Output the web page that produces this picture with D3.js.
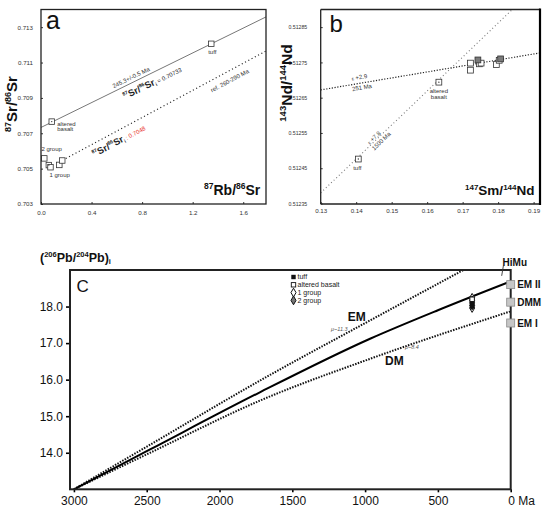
<!DOCTYPE html>
<html lang="en">
<head>
<meta charset="UTF-8">
<title>Rb-Sr, Sm-Nd and Pb isotope diagrams</title>
<script src="https://d3js.org/d3.v7.min.js"></script>
<style>
  body { margin: 0; background: #fff; }
  svg { display: block; font-family: "Liberation Sans", Arial, sans-serif; }
  .frame { fill: none; stroke: #222; }
  .axis path.domain { display: none; }
  .axis-small text { fill: #333; font-size: 6.2px; }
  .axis-small line { stroke: #333; }
  .axis-big text { fill: #111; font-size: 12px; }
  .axis-big line { stroke: #000; stroke-width: 1.6; }
  .note { fill: #333; font-size: 6px; }
</style>
</head>
<body>
<svg id="chart" width="550" height="510"></svg>
<script>
// ---------- panel a : 87Rb/86Sr vs 87Sr/86Sr ----------
const srTicksX = [0, 0.4, 0.8, 1.2, 1.6];
const srTicksY = [0.703, 0.705, 0.707, 0.709, 0.711, 0.713];
const srTuff = [[1.347, 0.71206]];
const srBasalt = [[0.085, 0.70766]];
const srGroups = [[0.026, 0.70558], [0.062, 0.70520], [0.075, 0.70508], [0.145, 0.70521], [0.168, 0.70546]];
const srIsochron = [[0, 0.70733], [1.78, 0.71358]];
const srReference = [[0.17, 0.70547], [1.78, 0.71165]];

// ---------- panel b : 147Sm/144Nd vs 143Nd/144Nd ----------
const ndTicksX = [0.13, 0.14, 0.15, 0.16, 0.17, 0.18, 0.19];
const ndTicksY = [0.51235, 0.51245, 0.51255, 0.51265, 0.51275, 0.51285];
const ndOpen = [[0.1406, 0.512476], [0.1633, 0.512694], [0.1722, 0.512748], [0.1722, 0.512728],
                [0.1747, 0.512746], [0.1752, 0.512748], [0.1795, 0.512744], [0.1803, 0.512756]];
const ndFilled = [[0.1743, 0.512757], [0.1807, 0.512760]];
const ndLine251 = [[0.13, 0.512672], [0.1918, 0.512777]];
const ndLine1500 = [[0.13, 0.51238], [0.184, 0.5129]];

// ---------- panel c : (206Pb/204Pb)i vs age ----------
const pbTicksX = [3000, 2500, 2000, 1500, 1000, 500, 0];
const pbTicksY = [14, 15, 16, 17, 18];
const pbEM = [[3000, 13.0], [2477, 14.22], [1720, 15.98], [966, 17.62], [325, 19.0]];
const pbMain = [[3000, 13.0], [2477, 14.09], [1720, 15.66], [966, 17.12], [500, 17.9], [0, 18.69]];
const pbDM = [[3000, 13.0], [2477, 14.0], [1720, 15.43], [966, 16.57], [0, 17.87]];
const pbReservoirs = ["EM II", "DMM", "EM I"];
const pbReservoirY = [18.6, 18.12, 17.55];
const pbSampleAge = 265;
const pbTuff = [18.07, 18.0];
const pbBasalt = [18.2];
const pbGroup1 = [18.24, 18.1, 17.96];
const pbGroup2 = [18.17, 18.03];
const pbLegend = ["tuff", "altered basalt", "1 group", "2 group"];

const svg = d3.select("#chart");

// text made of pieces: [string, size, baseline shift, bold, colour]
function richText(parent, parts) {
  const t = parent.append("text");
  let cur = 0;
  parts.forEach(([s, size, shift = 0, bold = false, color = null]) => {
    const sp = t.append("tspan")
      .attr("font-size", size)
      .attr("dy", shift - cur)
      .attr("font-weight", bold ? "bold" : null)
      .text(s);
    if (color) sp.attr("fill", color);
    cur = shift;
  });
  return t;
}

// place a label along a line, offset perpendicular (px)
function alongLine(parent, x, y, line, atX, offset, parts) {
  const p1 = [x(line[0][0]), y(line[0][1])];
  const p2 = [x(line[1][0]), y(line[1][1])];
  const ang = Math.atan2(p2[1] - p1[1], p2[0] - p1[0]) * 180 / Math.PI;
  const f = (atX - line[0][0]) / (line[1][0] - line[0][0]);
  const px = p1[0] + f * (p2[0] - p1[0]);
  const py = p1[1] + f * (p2[1] - p1[1]);
  const g = parent.append("g").attr("transform", `translate(${px},${py}) rotate(${ang})`);
  const t = richText(g, parts).attr("text-anchor", "middle").attr("y", offset);
  return t;
}

function squares(parent, x, y, pts, size, fill) {
  parent.selectAll(null).data(pts).join("rect")
    .attr("x", d => x(d[0]) - size / 2)
    .attr("y", d => y(d[1]) - size / 2)
    .attr("width", size).attr("height", size)
    .attr("fill", fill).attr("stroke", "#333").attr("stroke-width", 0.8);
}

// ================= panel a =================
{
  const x = d3.scaleLinear().domain([0, 1.78]).range([41, 266]);
  const y = d3.scaleLinear().domain([0.703, 0.714]).range([204, 9.5]);
  const g = svg.append("g");

  g.append("g").attr("class", "axis axis-small")
    .attr("transform", "translate(0,204)")
    .call(d3.axisBottom(x).tickValues(srTicksX).tickSize(-2).tickPadding(6.5).tickFormat(d3.format(".1f")));
  g.append("g").attr("class", "axis axis-small")
    .attr("transform", "translate(41,0)")
    .call(d3.axisLeft(y).tickValues(srTicksY).tickSize(-2).tickPadding(8).tickFormat(d3.format(".3f")));

  g.append("clipPath").attr("id", "clipA").append("rect")
    .attr("x", 41).attr("y", 9.5).attr("width", 225).attr("height", 194.5);
  const line = d3.line().x(d => x(d[0])).y(d => y(d[1]));
  g.append("path").attr("d", line(srIsochron)).attr("clip-path", "url(#clipA)")
    .attr("fill", "none").attr("stroke", "#777").attr("stroke-width", 1);
  g.append("path").attr("d", line(srReference))
    .attr("fill", "none").attr("stroke", "#222").attr("stroke-width", 1.2)
    .attr("stroke-dasharray", "1.1 2.6");

  squares(g, x, y, srGroups, 5.5, "#fff");
  squares(g, x, y, srBasalt, 5.5, "#fff");
  squares(g, x, y, srTuff, 5.5, "#fff");
  g.selectAll(null).data([srGroups[1], srBasalt[0]]).join("circle")
    .attr("cx", d => x(d[0])).attr("cy", d => y(d[1])).attr("r", 0.7).attr("fill", "#333");

  g.append("rect").attr("class", "frame").attr("x", 41).attr("y", 9.5)
    .attr("width", 225).attr("height", 194.5).attr("stroke-width", 1.3);

  // point labels
  g.append("text").attr("class", "note").attr("text-anchor", "middle")
    .attr("x", x(srTuff[0][0]) + 1).attr("y", y(srTuff[0][1]) + 10).text("tuff");
  g.append("text").attr("class", "note").attr("x", x(srBasalt[0][0]) + 5.5).attr("y", y(srBasalt[0][1]) + 4.5).text("altered");
  g.append("text").attr("class", "note").attr("x", x(srBasalt[0][0]) + 5.5).attr("y", y(srBasalt[0][1]) + 9.5).text("basalt");
  g.append("text").attr("class", "note").attr("font-size", 6.5).attr("x", 41.5).attr("y", y(srGroups[0][1]) - 7).text("2 group");
  g.append("text").attr("class", "note").attr("font-size", 6.5).attr("x", x(srGroups[2][0]) - 1).attr("y", y(srGroups[2][1]) + 10).text("1 group");

  // line annotations
  alongLine(g, x, y, srIsochron, 0.73, -3, [["245.3+/-0.5 Ma", 6]]).attr("fill", "#333");
  alongLine(g, x, y, srIsochron, 0.85, 12,
    [["87", 5, -4, true], ["Sr/", 9.5, 0, true], ["86", 5, -4, true], ["Sr", 9.5, 0, true],
     ["i", 5, 2, true], [" = 0.70733", 6, 0]]).attr("fill", "#222");
  alongLine(g, x, y, srReference, 1.46, 11, [["ref. 260-290 Ma", 6]]).attr("fill", "#333");
  alongLine(g, x, y, srReference, 0.58, 12.5,
    [["87", 5, -4, true], ["Sr/", 9.5, 0, true], ["86", 5, -4, true], ["Sr", 9.5, 0, true],
     ["i", 5, 2, true], [" : 0.7048", 6, 0, false, "#e8302a"]]).attr("fill", "#222");

  // titles
  g.append("text").attr("x", 46).attr("y", 28.5).attr("font-size", 25).attr("fill", "#111").text("a");
  richText(g, [["87", 8.5, -6, true], ["Rb/", 14, 0, true], ["86", 8.5, -6, true], ["Sr", 14, 0, true]])
    .attr("x", 204).attr("y", 195).attr("fill", "#111");
  richText(g, [["87", 9, -6, true], ["Sr/", 15, 0, true], ["86", 9, -6, true], ["Sr", 15, 0, true]])
    .attr("text-anchor", "middle").attr("fill", "#111")
    .attr("transform", "translate(16.5,104) rotate(-90)");
}

// ================= panel b =================
{
  const x = d3.scaleLinear().domain([0.13, 0.1918]).range([320.7, 540]);
  const y = d3.scaleLinear().domain([0.51235, 0.5129]).range([203.5, 9.5]);
  const g = svg.append("g");

  g.append("g").attr("class", "axis axis-small")
    .attr("transform", "translate(0,204)")
    .call(d3.axisBottom(x).tickValues(ndTicksX).tickSize(-2).tickPadding(4.8).tickFormat(d3.format(".2f")));
  const ay = g.append("g").attr("class", "axis axis-small")
    .attr("transform", "translate(320.7,0)")
    .call(d3.axisLeft(y).tickValues(ndTicksY).tickSize(-2).tickPadding(13.5).tickFormat(d3.format(".5f")));
  ay.selectAll("text").style("font-size", "5.2px");

  g.append("clipPath").attr("id", "clipB").append("rect")
    .attr("x", 320.7).attr("y", 9.5).attr("width", 219.3).attr("height", 194.5);
  const line = d3.line().x(d => x(d[0])).y(d => y(d[1]));
  g.append("path").attr("d", line(ndLine1500)).attr("clip-path", "url(#clipB)")
    .attr("fill", "none").attr("stroke", "#777").attr("stroke-width", 1.1)
    .attr("stroke-dasharray", "1 2.6");
  g.append("path").attr("d", line(ndLine251)).attr("clip-path", "url(#clipB)")
    .attr("fill", "none").attr("stroke", "#222").attr("stroke-width", 1.2)
    .attr("stroke-dasharray", "1.2 1.6");

  squares(g, x, y, ndOpen, 5.8, "#fff");
  squares(g, x, y, ndFilled, 5.8, "#7a7a7a");
  g.selectAll(null).data(ndOpen.slice(0, 2)).join("circle")
    .attr("cx", d => x(d[0])).attr("cy", d => y(d[1])).attr("r", 0.7).attr("fill", "#333");

  g.append("line").attr("x1", 320.7).attr("x2", 320.7).attr("y1", 9.5).attr("y2", 204)
    .attr("stroke", "#222").attr("stroke-width", 1.3);
  g.append("line").attr("x1", 320.7).attr("x2", 540).attr("y1", 204).attr("y2", 204)
    .attr("stroke", "#222").attr("stroke-width", 1.3);
  g.append("line").attr("x1", 320.7).attr("x2", 540).attr("y1", 9.5).attr("y2", 9.5)
    .attr("stroke", "#222").attr("stroke-width", 1.3);
  g.append("line").attr("x1", 540).attr("x2", 540).attr("y1", 8.5).attr("y2", 205)
    .attr("stroke", "#000").attr("stroke-width", 2.2);

  // point labels
  g.append("text").attr("class", "note").attr("text-anchor", "middle")
    .attr("x", x(ndOpen[0][0]) - 1).attr("y", y(ndOpen[0][1]) + 10.5).text("tuff");
  g.append("text").attr("class", "note").attr("text-anchor", "middle")
    .attr("x", x(ndOpen[1][0])).attr("y", y(ndOpen[1][1]) + 11).text("altered");
  g.append("text").attr("class", "note").attr("text-anchor", "middle")
    .attr("x", x(ndOpen[1][0])).attr("y", y(ndOpen[1][1]) + 17).text("basalt");

  // line annotations
  alongLine(g, x, y, ndLine251, 0.1412, -4, [["ε", 5], [" +2.9", 6]]).attr("fill", "#333");
  alongLine(g, x, y, ndLine251, 0.1414, 6.5, [["251 Ma", 6]]).attr("fill", "#333");
  alongLine(g, x, y, ndLine1500, 0.1456, -1, [["ε", 5], [" +7.8", 6]]).attr("fill", "#333");
  alongLine(g, x, y, ndLine1500, 0.1462, 6.5, [["1500 Ma", 6]]).attr("fill", "#333");

  // titles
  g.append("text").attr("x", 329.5).attr("y", 31.7).attr("font-size", 24).attr("fill", "#111").text("b");
  richText(g, [["147", 8, -5.5, true], ["Sm/", 13.5, 0, true], ["144", 8, -5.5, true], ["Nd", 13.5, 0, true]])
    .attr("x", 465).attr("y", 195).attr("fill", "#111");
  richText(g, [["143", 9.5, -6, true], ["Nd/", 15.5, 0, true], ["144", 9.5, -6, true], ["Nd", 15.5, 0, true]])
    .attr("text-anchor", "middle").attr("fill", "#111")
    .attr("transform", "translate(292,83) rotate(-90)");
}

// ================= panel c =================
{
  const x = d3.scaleLinear().domain([3027, 0]).range([70, 510.7]);
  const y = d3.scaleLinear().domain([13, 19]).range([489.3, 270]);
  const g = svg.append("g");

  const ax = g.append("g").attr("class", "axis axis-big")
    .attr("transform", "translate(0,489.3)")
    .call(d3.axisBottom(x).tickValues(pbTicksX).tickSize(3).tickPadding(4.5)
      .tickFormat(d => d === 0 ? "0 Ma" : d));
  ax.selectAll(".tick text").filter(d => d === 0).attr("text-anchor", "start").attr("x", -3);
  g.append("g").attr("class", "axis axis-big")
    .attr("transform", "translate(70,0)")
    .call(d3.axisLeft(y).tickValues(pbTicksY).tickSize(4).tickPadding(3).tickFormat(d3.format(".1f")));

  g.append("clipPath").attr("id", "clipC").append("rect")
    .attr("x", 70).attr("y", 270).attr("width", 440.7).attr("height", 219.3);
  const line = d3.line().curve(d3.curveMonotoneX).x(d => x(d[0])).y(d => y(d[1]));
  [pbEM, pbDM].forEach(c => {
    g.append("path").attr("d", line(c)).attr("clip-path", "url(#clipC)")
      .attr("fill", "none").attr("stroke", "#111").attr("stroke-width", 2)
      .attr("stroke-dasharray", "1.5 1.3");
  });
  g.append("path").attr("d", line(pbMain)).attr("clip-path", "url(#clipC)")
    .attr("fill", "none").attr("stroke", "#000").attr("stroke-width", 2);

  // samples at ~265 Ma
  const sx = x(pbSampleAge);
  const diamond = d3.symbol().type(d3.symbolDiamond).size(22);
  g.selectAll(null).data(pbGroup1).join("path")
    .attr("d", diamond).attr("transform", d => `translate(${sx},${y(d)})`)
    .attr("fill", "#fff").attr("stroke", "#111").attr("stroke-width", 1);
  g.selectAll(null).data(pbGroup2).join("path")
    .attr("d", diamond).attr("transform", d => `translate(${sx},${y(d)})`)
    .attr("fill", "#555").attr("stroke", "#111").attr("stroke-width", 1);
  g.selectAll(null).data(pbBasalt).join("rect")
    .attr("x", sx - 2.2).attr("y", d => y(d) - 2.2).attr("width", 4.4).attr("height", 4.4)
    .attr("fill", "#fff").attr("stroke", "#111").attr("stroke-width", 0.9);
  g.selectAll(null).data(pbTuff).join("rect")
    .attr("x", sx - 2.2).attr("y", d => y(d) - 2.2).attr("width", 4.4).attr("height", 4.4)
    .attr("fill", "#111");

  g.append("rect").attr("class", "frame").attr("x", 70).attr("y", 270)
    .attr("width", 440.7).attr("height", 219.3).attr("stroke", "#000").attr("stroke-width", 2);

  // mantle reservoirs on the 0 Ma axis
  g.selectAll(null).data(pbReservoirY).join("rect")
    .attr("x", x(0) - 4).attr("y", d => y(d) - 4).attr("width", 8).attr("height", 8)
    .attr("fill", "#c6c6c6").attr("stroke", "#8a8a8a").attr("stroke-width", 0.8);
  g.selectAll(null).data(pbReservoirs).join("text")
    .attr("x", x(0) + 6.5).attr("y", (d, i) => y(pbReservoirY[i]) + 3.6)
    .attr("font-size", 10).attr("font-weight", "bold").attr("fill", "#111").text(d => d);
  g.append("line").attr("x1", x(62)).attr("x2", x(50)).attr("y1", y(18.84)).attr("y2", y(19.12))
    .attr("stroke", "#333").attr("stroke-width", 0.9);
  g.append("text").attr("x", x(56)).attr("y", y(19.12)).attr("font-size", 10)
    .attr("font-weight", "bold").attr("fill", "#111").text("HiMu");

  // curve labels
  g.append("text").attr("x", x(1120)).attr("y", y(17.6)).attr("font-size", 12)
    .attr("font-weight", "bold").attr("fill", "#111").text("EM");
  g.append("text").attr("x", x(1234)).attr("y", y(17.34)).attr("font-size", 5.5)
    .attr("font-style", "italic").attr("fill", "#555").text("μ~11.3");
  g.append("text").attr("x", x(863)).attr("y", y(16.41)).attr("font-size", 12)
    .attr("font-weight", "bold").attr("fill", "#111").text("DM");
  g.append("text").attr("x", x(726)).attr("y", y(16.85)).attr("font-size", 5.5)
    .attr("font-style", "italic").attr("fill", "#555").text("μ~8.4");

  // legend
  const lg = g.append("g").attr("transform", "translate(293.5,277)");
  lg.selectAll(null).data(pbLegend).join("text")
    .attr("x", 4).attr("y", (d, i) => i * 7.8 + 2.4)
    .attr("font-size", 7).attr("fill", "#222").text(d => d);
  lg.append("rect").attr("x", -2.2).attr("y", -2.2).attr("width", 4.4).attr("height", 4.4).attr("fill", "#111");
  lg.append("rect").attr("x", -2.2).attr("y", 7.8 - 2.2).attr("width", 4.4).attr("height", 4.4)
    .attr("fill", "#fff").attr("stroke", "#111").attr("stroke-width", 0.9);
  lg.append("path").attr("d", diamond).attr("transform", "translate(0,15.6)")
    .attr("fill", "#fff").attr("stroke", "#111").attr("stroke-width", 1);
  lg.append("path").attr("d", diamond).attr("transform", "translate(0,23.4)")
    .attr("fill", "#777").attr("stroke", "#111").attr("stroke-width", 1);

  // titles
  g.append("text").attr("x", 76.5).attr("y", 291.7).attr("font-size", 17).attr("fill", "#111").text("C");
  richText(g, [["(", 12.5, 0, true], ["206", 7.5, -5, true], ["Pb/", 12.5, 0, true], ["204", 7.5, -5, true],
               ["Pb)", 12.5, 0, true], ["i", 7.5, 2.5, true]])
    .attr("x", 40).attr("y", 261.7).attr("fill", "#111");
}
</script>
</body>
</html>
